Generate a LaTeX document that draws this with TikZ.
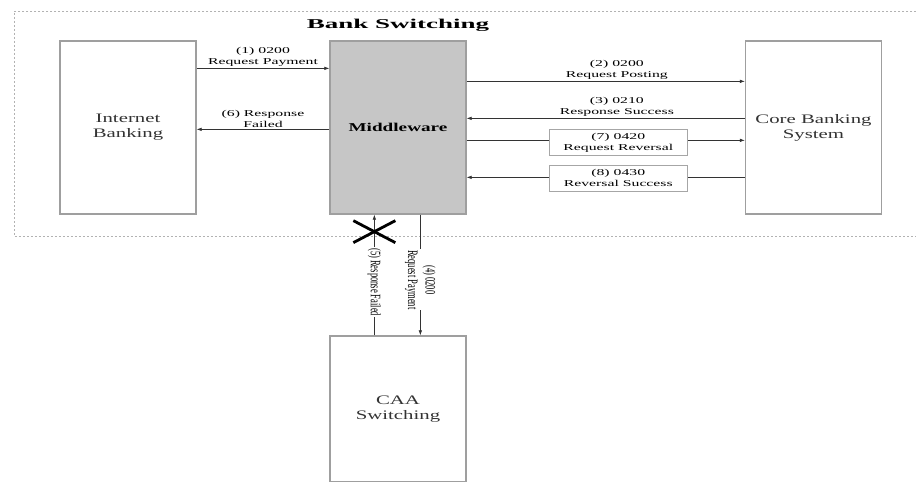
\documentclass[tikz,border=0pt]{standalone}
\usepackage{fontspec}
\usepackage{graphicx}
\setmainfont{Liberation Serif}
\newfontfamily\lblf[FakeStretch=1.75]{Liberation Serif}
\newfontfamily\boxf[FakeStretch=1.6]{Liberation Serif}
\newfontfamily\titf[FakeStretch=2.0]{Liberation Serif}
\usetikzlibrary{arrows.meta}
\begin{document}
\begin{tikzpicture}[x=1pt,y=-1pt,
  sysbox/.style={draw=gray!75, line width=1.3pt, minimum width=136pt, minimum height=173pt, inner sep=0pt, font=\boxf\fontsize{13}{15}\selectfont, text=black!80, align=center},
  arr/.style={-{Latex[length=5pt,width=3.5pt]}, line width=0.6pt, draw=black!80},
  plain/.style={line width=0.6pt, draw=black!80},
  lbl/.style={font=\lblf\fontsize{9}{11}\selectfont, align=center, inner sep=1.5pt},
  lblbox/.style={lbl, draw=gray!70, line width=0.8pt, fill=white, minimum width=138pt, minimum height=26pt},
  vlbl/.style={rotate=-90, fill=white, inner sep=1pt},
]
\useasboundingbox (0,0) rectangle (916,482);
\fill[white] (0,0) rectangle (916,482);
\draw[gray!60, line width=0.8pt, dash pattern=on 2pt off 2pt] (916,11) -- (14,11) -- (14,236) -- (916,236);
\node[font=\titf\bfseries\fontsize{13.5}{15}\selectfont] (title) at (398,25) {Bank Switching};
\node[sysbox] (ib) at (128,127.5) {Internet\\Banking};
\node[sysbox, fill=gray!45, font=\boxf\bfseries\fontsize{12}{14}\selectfont, text=black] (mw) at (398,127.5) {Middleware};
\node[sysbox] (cb) at (813.5,127.5) {Core Banking\\System};
\node[sysbox, minimum height=146pt] (caa) at (398,409) {CAA\\Switching};
% Internet Banking <-> Middleware
\draw[arr] ([yshift=-28pt]ib.north east) -- ([yshift=-28pt]mw.north west)
  node[lbl, midway, above] (l1) {(1) 0200\\Request Payment};
\draw[arr] ([yshift=-89pt]mw.north west) -- ([yshift=-89pt]ib.north east)
  node[lbl, midway, above] (l6) {(6) Response\\Failed};
% Middleware <-> Core Banking
\draw[arr] ([yshift=-41pt]mw.north east) -- ([yshift=-41pt]cb.north west)
  node[lbl, pos=0.54, above] (l2) {(2) 0200\\Request Posting};
\draw[arr] ([yshift=-78pt]cb.north west) -- ([yshift=-78pt]mw.north east)
  node[lbl, pos=0.46, above] (l3) {(3) 0210\\Response Success};
\draw[arr] ([yshift=-100pt]mw.north east) -- ([yshift=-100pt]cb.north west)
  node[lblbox, pos=0.545, yshift=-2pt] (l7) {(7) 0420\\Request Reversal};
\draw[arr] ([yshift=-137pt]cb.north west) -- ([yshift=-137pt]mw.north east)
  node[lblbox, pos=0.455, yshift=-1pt] (l8) {(8) 0430\\Reversal Success};
% Middleware <-> CAA Switching
\draw[arr] ([xshift=45pt]caa.north west) -- ([xshift=45pt]mw.south west)
  node[vlbl, pos=0.44] (l5) {\scalebox{1}[1.7]{\fontsize{8.5}{11}\selectfont (5) Response Failed}};
\draw[arr] ([xshift=91pt]mw.south west) -- ([xshift=91pt]caa.north west)
  node[vlbl, pos=0.54] (l4) {\scalebox{1}[1.7]{\fontsize{8.5}{11}\selectfont\shortstack{(4) 0200\\Request Payment}}};
\coordinate (xm) at ([xshift=45pt, yshift=-17pt]mw.south west);
\draw[line width=2.8pt, black] ([shift={(-21,-11)}]xm) -- ([shift={(21,11)}]xm);
\draw[line width=2.8pt, black] ([shift={(-21,11)}]xm) -- ([shift={(21,-11)}]xm);
\end{tikzpicture}
\end{document}
